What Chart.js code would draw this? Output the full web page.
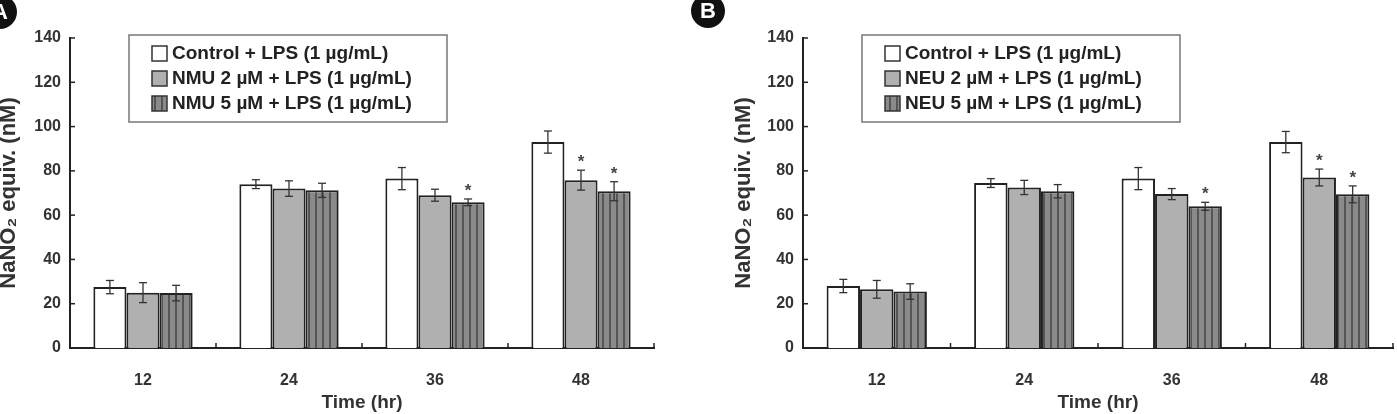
<!DOCTYPE html>
<html>
<head>
<meta charset="utf-8">
<script src="https://cdn.jsdelivr.net/npm/chart.js@4.4.1/dist/chart.umd.min.js"></script>
<style>
  body { margin: 0; background: #fff; width: 1397px; height: 414px; overflow: hidden; position: relative; }
  .wrap { position: absolute; top: 0; height: 414px; }
  .tag { position: absolute; width: 34px; height: 34px; border-radius: 50%; background: #111; color: #fff;
         font: bold 22px "Liberation Sans", Arial, sans-serif; text-align: center; line-height: 34px; }
</style>
</head>
<body>
<div class="wrap" style="left:0;width:700px"><canvas id="chartA" width="700" height="414"></canvas></div>
<div class="wrap" style="left:700px;width:697px"><canvas id="chartB" width="697" height="414"></canvas></div>
<div class="tag" style="left:-17px;top:-5px">A</div>
<div class="tag" style="left:691px;top:-6px">B</div>
<script>
// time points (hr)
var times = ["12", "24", "36", "48"];

// panel A - NMU
var ctrlA = [27.5, 74, 76.5, 93];
var ctrlAErr = [3, 2, 5, 5];
var nmu2 = [25, 72, 69, 75.8];
var nmu2Err = [4.5, 3.5, 2.7, 4.5];
var nmu5 = [24.8, 71.2, 65.8, 70.8];
var nmu5Err = [3.5, 3.2, 1.5, 4.3];
var nmu2Star = [false, false, false, true];
var nmu5Star = [false, false, true, true];
var labelsA = ["Control + LPS (1 \u00b5g/mL)", "NMU 2 \u00b5M + LPS (1 \u00b5g/mL)", "NMU 5 \u00b5M + LPS (1 \u00b5g/mL)"];

// panel B - NEU
var ctrlB = [28, 74.5, 76.5, 93];
var ctrlBErr = [3, 2, 5, 4.8];
var neu2 = [26.5, 72.5, 69.5, 77];
var neu2Err = [4, 3.2, 2.5, 3.8];
var neu5 = [25.5, 70.8, 64, 69.4];
var neu5Err = [3.5, 3, 1.8, 3.8];
var neu2Star = [false, false, false, true];
var neu5Star = [false, false, true, true];
var labelsB = ["Control + LPS (1 \u00b5g/mL)", "NEU 2 \u00b5M + LPS (1 \u00b5g/mL)", "NEU 5 \u00b5M + LPS (1 \u00b5g/mL)"];

var noStar = [false, false, false, false];
var FONT = '"Liberation Sans", Arial, sans-serif';
Chart.defaults.font.family = FONT;
Chart.defaults.color = "#333";

function stripes() {
  var c = document.createElement("canvas");
  c.width = 7; c.height = 1;
  var g = c.getContext("2d");
  g.fillStyle = "#8a8a8a"; g.fillRect(0, 0, 7, 1);
  g.fillStyle = "#555"; g.fillRect(0, 0, 2, 1);
  return g.createPattern(c, "repeat");
}

// inward ticks, error bars, stars and the boxed legend
var decor = {
  id: "decor",
  afterDatasetsDraw: function (chart) {
    var ctx = chart.ctx, area = chart.chartArea, x = chart.scales.x, y = chart.scales.y;
    function line(x1, y1, x2, y2) { ctx.beginPath(); ctx.moveTo(x1, y1); ctx.lineTo(x2, y2); ctx.stroke(); }
    ctx.save();
    ctx.strokeStyle = "#222"; ctx.lineWidth = 1.5;
    y.ticks.forEach(function (t, i) {
      var py = y.getPixelForTick(i);
      line(area.left, py, area.left + 5, py);
    });
    var n = x.ticks.length;
    for (var i = 1; i <= n; i++) {
      var px = i < n ? (x.getPixelForTick(i - 1) + x.getPixelForTick(i)) / 2 : area.right;
      line(px, area.bottom, px, area.bottom - 5);
    }

    ctx.strokeStyle = "#333"; ctx.lineWidth = 1.3;
    ctx.fillStyle = "#444"; ctx.font = "bold 17px " + FONT;
    ctx.textAlign = "center"; ctx.textBaseline = "alphabetic";
    chart.data.datasets.forEach(function (ds, di) {
      chart.getDatasetMeta(di).data.forEach(function (bar, j) {
        var v = ds.data[j], e = ds.errors[j];
        var top = y.getPixelForValue(v + e), bot = y.getPixelForValue(v - e);
        line(bar.x, top, bar.x, bot);
        line(bar.x - 4, top, bar.x + 4, top);
        line(bar.x - 4, bot, bar.x + 4, bot);
        if (ds.stars[j]) ctx.fillText("*", bar.x, top - 3);
      });
    });

    // legend box
    var lx = area.left + 59, ly = area.top - 3;
    ctx.fillStyle = "#fff";
    ctx.fillRect(lx, ly, 318, 87);
    ctx.strokeStyle = "#777"; ctx.lineWidth = 1.5;
    ctx.strokeRect(lx, ly, 318, 87);
    ctx.font = "bold 19px " + FONT;
    ctx.textAlign = "left"; ctx.textBaseline = "middle";
    chart.data.datasets.forEach(function (ds, di) {
      var cy = ly + 18 + di * 25;
      ctx.fillStyle = ds.backgroundColor;
      ctx.fillRect(lx + 23, cy - 7, 15, 15);
      ctx.strokeStyle = "#333"; ctx.lineWidth = 1.5;
      ctx.strokeRect(lx + 23, cy - 7, 15, 15);
      ctx.fillStyle = "#222";
      ctx.fillText(ds.label, lx + 43, cy + 1);
    });
    ctx.restore();
  }
};

function makePanel(id, labels, vals, errs, stars, pad, yWidth) {
  var fills = ["#ffffff", "#b0b0b0", stripes()];
  var datasets = vals.map(function (v, k) {
    return {
      label: labels[k],
      data: v,
      errors: errs[k],
      stars: stars[k],
      backgroundColor: fills[k],
      borderColor: "#222",
      borderWidth: 2,
      categoryPercentage: 0.68,
      barPercentage: 1.0
    };
  });
  return new Chart(document.getElementById(id), {
    type: "bar",
    data: { labels: times, datasets: datasets },
    options: {
      responsive: false,
      animation: false,
      layout: { padding: pad },
      plugins: { legend: { display: false }, tooltip: { enabled: false } },
      scales: {
        x: {
          grid: { display: false, drawTicks: false },
          border: { display: true, color: "#222", width: 2 },
          ticks: { font: { size: 16, weight: "bold" }, padding: 23, color: "#333" },
          title: { display: true, text: "Time (hr)", font: { size: 19, weight: "bold" }, color: "#333", padding: 0 },
          afterFit: function (s) { s.height = 66; }
        },
        y: {
          min: 0, max: 140,
          grid: { display: false, drawTicks: false },
          border: { display: true, color: "#222", width: 2 },
          ticks: { stepSize: 20, font: { size: 16, weight: "bold" }, padding: 9, color: "#333" },
          title: { display: true, text: "NaNO\u2082 equiv. (nM)", font: { size: 22, weight: "bold" }, color: "#333", padding: { top: -4, bottom: 0 } },
          afterFit: function (s) { s.width = yWidth; }
        }
      }
    },
    plugins: [decor]
  });
}

makePanel("chartA", labelsA, [ctrlA, nmu2, nmu5], [ctrlAErr, nmu2Err, nmu5Err], [noStar, nmu2Star, nmu5Star],
  { left: 0, top: 38, right: 46, bottom: 0 }, 70);
makePanel("chartB", labelsB, [ctrlB, neu2, neu5], [ctrlBErr, neu2Err, neu5Err], [noStar, neu2Star, neu5Star],
  { left: 35, top: 38, right: 4, bottom: 0 }, 68);
</script>
</body>
</html>
